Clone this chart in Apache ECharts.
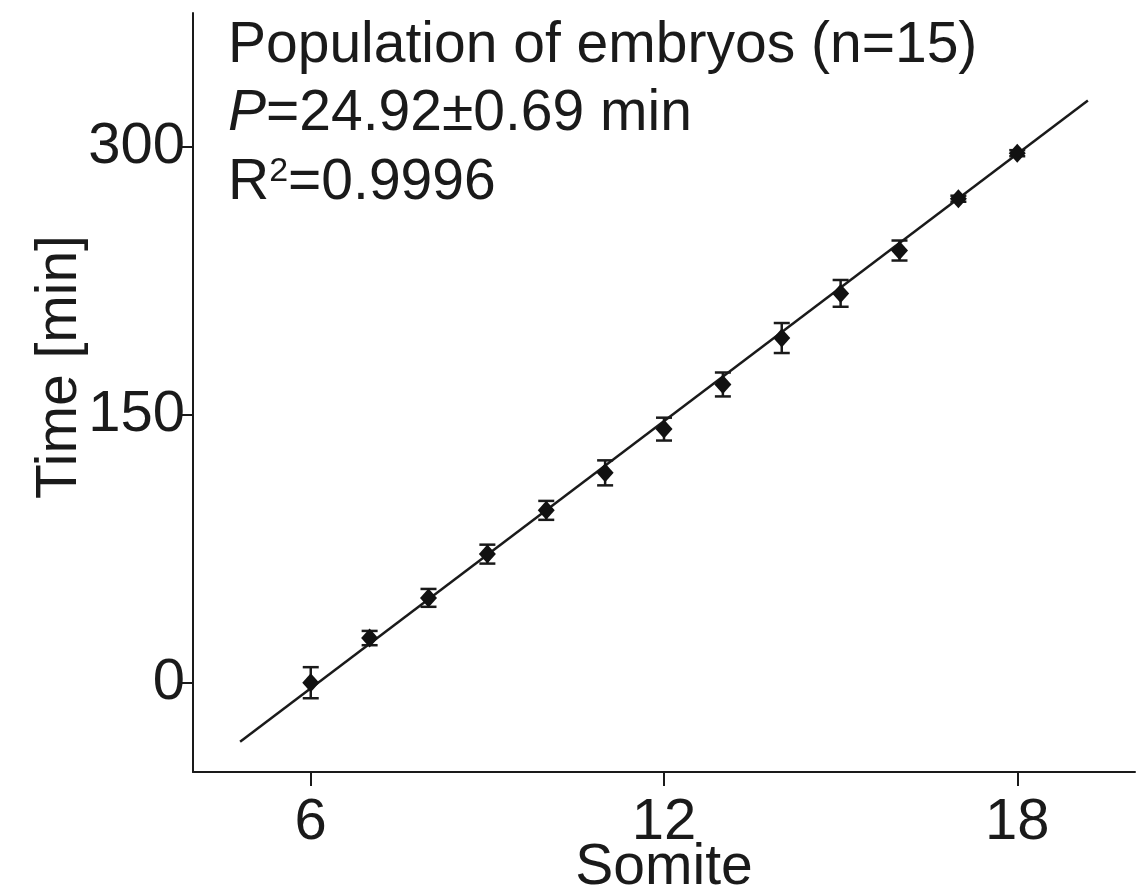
<!DOCTYPE html>
<html>
<head>
<meta charset="utf-8">
<script src="https://cdn.jsdelivr.net/npm/echarts@6/dist/echarts.min.js"></script>
<style>
html,body{margin:0;padding:0;background:#fff;}
#chart{width:1146px;height:894px;}
</style>
</head>
<body>
<div id="chart"></div>
<script>
// ---- data ----
const somites = [6, 7, 8, 9, 10, 11, 12, 13, 14, 15, 16, 17, 18];
const times   = [0, 25, 47.5, 72, 96.5, 117.5, 142, 167, 193, 218, 242, 271, 296.5];
const errors  = [8.7, 4, 5, 5.3, 5.3, 7, 6.4, 6.7, 8.4, 7.5, 5.6, 1.7, 1.7];
const fitX = [4.8, 19.2];
const fitY = [-33, 326];
const xTicks = [6, 12, 18];
const yTicks = [0, 150, 300];
const xName = 'Somite';
const yName = 'Time [min]';
const noteLines = ['Population of embryos (n=15)', '24.92±0.69 min', '0.9996'];

const FONT = '"Liberation Sans", Arial, Helvetica, sans-serif';
const INK = '#1a1a1a';
const TXT = 57;
const TICK = 58;

const chart = echarts.init(document.getElementById('chart'), null, {renderer: 'canvas'});

const pointData = somites.map((s, i) => [s, times[i]]);
const errData = somites.map((s, i) => [s, times[i] - errors[i], times[i] + errors[i]]);
const fitData = fitX.map((x, i) => [x, fitY[i]]);

const option = {
  backgroundColor: '#ffffff',
  animation: false,
  grid: {left: 193, right: 11, top: 13, bottom: 122, containLabel: false, outerBoundsMode: 'none'},
  xAxis: {
    type: 'value', min: 4, max: 20,
    name: xName, nameLocation: 'middle', nameGap: 68, nameMoveOverlap: false,
    nameTextStyle: {fontFamily: FONT, fontSize: TXT, color: INK},
    axisLine: {show: true, onZero: false, lineStyle: {color: INK, width: 2}},
    axisTick: {show: true, customValues: xTicks, length: 14, lineStyle: {color: INK, width: 2}},
    axisLabel: {customValues: xTicks, fontFamily: FONT, fontSize: TICK, color: INK, margin: 22},
    splitLine: {show: false}
  },
  yAxis: {
    type: 'value', min: -50, max: 375,
    axisLine: {show: true, onZero: false, lineStyle: {color: INK, width: 2}},
    axisTick: {show: true, customValues: yTicks, length: 14, lineStyle: {color: INK, width: 2}},
    axisLabel: {customValues: yTicks, fontFamily: FONT, fontSize: TICK, color: INK, margin: 8},
    splitLine: {show: false}
  },
  graphic: [
    {
      type: 'text', rotation: Math.PI / 2,
      x: 60, y: 367,
      style: {text: yName, font: TXT + 'px ' + FONT, fill: INK, textAlign: 'center', textVerticalAlign: 'middle'}
    },
    {
      type: 'text', x: 228, y: 18,
      style: {text: noteLines[0], font: TXT + 'px ' + FONT, fill: INK}
    },
    {
      type: 'text', x: 228, y: 86,
      style: {
        text: '{i|P}{n|=' + noteLines[1] + '}',
        fill: INK,
        rich: {
          i: {fontFamily: FONT, fontSize: TXT, fontStyle: 'italic', fill: INK},
          n: {fontFamily: FONT, fontSize: TXT, fill: INK}
        }
      }
    },
    {
      type: 'text', x: 228, y: 155,
      style: {
        text: '{n|R}{s|2}{n|=' + noteLines[2] + '}',
        fill: INK,
        rich: {
          n: {fontFamily: FONT, fontSize: TXT, fill: INK, verticalAlign: 'bottom'},
          s: {fontFamily: FONT, fontSize: 34, fill: INK, verticalAlign: 'top'}
        }
      }
    }
  ],
  series: [
    {
      type: 'line', data: fitData, symbol: 'none', silent: true,
      lineStyle: {color: INK, width: 2.5}, z: 2
    },
    {
      type: 'custom', data: errData, z: 3, silent: true,
      renderItem: function (params, api) {
        const x = api.value(0);
        const lo = api.coord([x, api.value(1)]);
        const hi = api.coord([x, api.value(2)]);
        const hw = 8;
        const st = {stroke: INK, lineWidth: 2.5};
        return {
          type: 'group',
          children: [
            {type: 'line', shape: {x1: lo[0], y1: lo[1], x2: hi[0], y2: hi[1]}, style: st},
            {type: 'line', shape: {x1: lo[0] - hw, y1: lo[1], x2: lo[0] + hw, y2: lo[1]}, style: st},
            {type: 'line', shape: {x1: hi[0] - hw, y1: hi[1], x2: hi[0] + hw, y2: hi[1]}, style: st}
          ]
        };
      }
    },
    {
      type: 'scatter', data: pointData, symbol: 'diamond', symbolSize: [17, 19], z: 4,
      itemStyle: {color: '#111', opacity: 1}
    }
  ]
};
chart.setOption(option);
</script>
</body>
</html>
